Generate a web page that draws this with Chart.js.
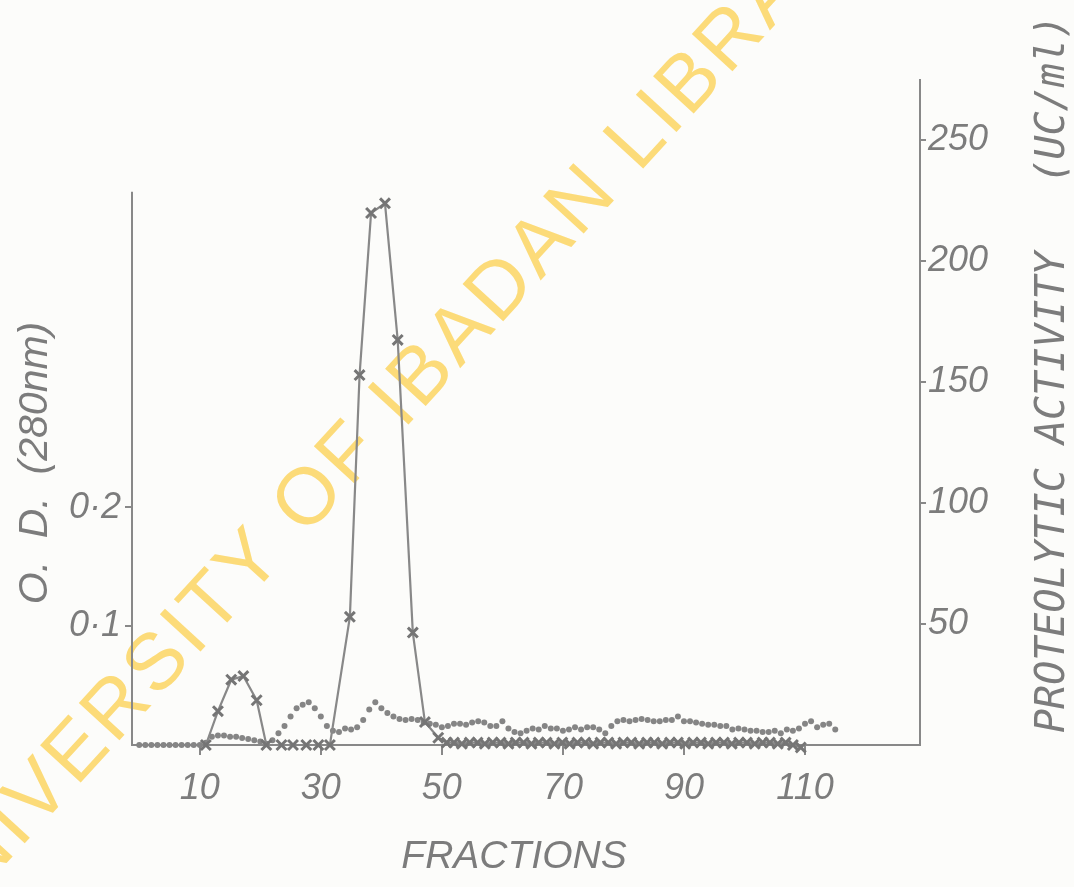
<!DOCTYPE html>
<html>
<head>
<meta charset="utf-8">
<script src="https://cdn.jsdelivr.net/npm/chart.js@4/dist/chart.umd.min.js"></script>
<style>
  html, body { margin: 0; padding: 0; background: #fcfcfa; }
  #wrap { width: 1074px; height: 887px; position: relative; }
</style>
</head>
<body>
<div id="wrap"><canvas id="chart" width="1074" height="887"></canvas></div>
<script>
// O.D. (280 nm), one reading per fraction, starting at fraction 0
const odValues = [
  0, 0, 0, 0, 0, 0, 0, 0, 0, 0, 0,
  0.002, 0.007, 0.008, 0.008, 0.007, 0.007, 0.006, 0.005, 0.004, 0.003,
  0.001, 0.004, 0.010, 0.016, 0.024, 0.031, 0.034, 0.036, 0.031, 0.024,
  0.016, 0.012, 0.011, 0.014, 0.013, 0.015, 0.021, 0.030, 0.036, 0.031,
  0.027, 0.024, 0.022, 0.021, 0.022, 0.021, 0.019, 0.018, 0.017, 0.015,
  0.016, 0.018, 0.018, 0.017, 0.019, 0.020, 0.019, 0.016, 0.016, 0.020,
  0.014, 0.011, 0.010, 0.012, 0.014, 0.013, 0.016, 0.014, 0.014, 0.012,
  0.013, 0.015, 0.013, 0.015, 0.015, 0.013, 0.010, 0.016, 0.020, 0.021,
  0.020, 0.021, 0.022, 0.021, 0.020, 0.020, 0.021, 0.021, 0.024, 0.020,
  0.020, 0.019, 0.018, 0.017, 0.017, 0.016, 0.016, 0.013, 0.014, 0.013,
  0.012, 0.012, 0.011, 0.011, 0.012, 0.010, 0.013, 0.012, 0.014, 0.018,
  0.020, 0.015, 0.017, 0.018, 0.013
];

// proteolytic activity (UC/ml)
const activityFractions = [
  11, 13, 15.2, 17.2, 19.4, 21, 23.5, 25.4, 27.6, 29.6, 31.5,
  34.8, 36.4, 38.3, 40.6, 42.7, 45.2, 47.2, 49.4,
  50.8, 52, 53.3, 54.6, 55.9, 57.1, 58.4, 59.7, 61, 62.2, 63.5, 64.8,
  66, 67.3, 68.6, 69.9, 71.1, 72.4, 73.7, 75, 76.2, 77.5, 78.8, 80,
  81.3, 82.6, 83.9, 85.1, 86.4, 87.7, 89, 90.2, 91.5, 92.8, 94, 95.3,
  96.6, 97.9, 99.1, 100.4, 101.7, 103, 104.2, 105.5, 106.8, 108, 109.3
];
const activityValues = [
  0, 14, 27, 28.5, 18.5, 0, 0, 0, 0, 0, 0,
  53, 153, 220, 224, 167.5, 46.5, 9.5, 3,
  1, 1, 0.5, 1, 1, 0.5, 1, 1, 0.5, 1, 1, 0.5,
  1, 1, 0.5, 1, 0.5, 1, 1, 0.5, 1, 1, 0.5, 1,
  1, 0.5, 1, 1, 0.5, 1, 1, 0.5, 1, 1, 0.5, 1,
  1, 0.5, 1, 1, 0.5, 1, 1, 0.5, 1, 0, -1
];

const xTicks = [10, 30, 50, 70, 90, 110];
const odTicks = [0.1, 0.2];
const activityTicks = [50, 100, 150, 200, 250];

const xMin = -1.2, xMax = 129;
const odMax = 0.56, activityMax = 275;
const odAxisTop = 0.466;

const ink = "#7c7c7c";
const lineInk = "#888888";

const odPoints = odValues.map((v, i) => ({ x: i, y: v }));
const activityPoints = activityFractions.map((f, i) => ({ x: f, y: activityValues[i] }));

const paperPlugin = {
  id: "paper",
  beforeDraw(chart) {
    const ctx = chart.ctx;
    ctx.save();
    ctx.fillStyle = "#fcfcfa";
    ctx.fillRect(0, 0, chart.width, chart.height);
    // library stamp
    ctx.translate(-80, 925);
    ctx.rotate(-47.5 * Math.PI / 180);
    ctx.font = "80px 'Liberation Sans', Arial, sans-serif";
    ctx.letterSpacing = "4px";
    ctx.fillStyle = "rgba(252, 213, 98, 0.85)";
    ctx.textBaseline = "middle";
    ctx.fillText("UNIVERSITY OF IBADAN LIBRARY", 0, 0);
    ctx.restore();
  }
};

const titlesPlugin = {
  id: "titles",
  afterDraw(chart) {
    const ctx = chart.ctx;
    const yl = chart.scales.yOD;
    const area = chart.chartArea;
    ctx.save();
    // left axis only runs up to ~0.47
    ctx.strokeStyle = lineInk;
    ctx.lineWidth = 2;
    ctx.beginPath();
    ctx.moveTo(area.left, yl.getPixelForValue(0) + 1);
    ctx.lineTo(area.left, yl.getPixelForValue(odAxisTop));
    ctx.stroke();

    ctx.fillStyle = ink;
    ctx.textBaseline = "middle";
    ctx.font = "italic 39px 'Liberation Sans', Arial, sans-serif";
    ctx.textAlign = "center";
    ctx.fillText("FRACTIONS", 514, 857);

    ctx.save();
    ctx.translate(36, 463);
    ctx.rotate(-Math.PI / 2);
    ctx.font = "italic 41px 'Liberation Sans', Arial, sans-serif";
    ctx.fillText("O.  D.  (280nm)", 0, 0);
    ctx.restore();

    ctx.save();
    ctx.translate(1054, 733);
    ctx.rotate(-Math.PI / 2);
    ctx.font = "oblique 40px 'DejaVu Sans Mono', monospace";
    ctx.textAlign = "left";
    ctx.fillText("PROTEOLYTIC ACTIVITY", 0, 0);
    ctx.textAlign = "right";
    ctx.fillText("(UC/ml)", 718, 0);
    ctx.restore();
    ctx.restore();
  }
};

const tickFont = { family: "'Liberation Sans', Arial, sans-serif", size: 36, style: "italic" };

new Chart(document.getElementById("chart"), {
  type: "scatter",
  data: {
    datasets: [
      {
        label: "Proteolytic activity",
        data: activityPoints,
        yAxisID: "yAct",
        showLine: true,
        borderColor: lineInk,
        borderWidth: 2.2,
        pointStyle: "crossRot",
        pointRadius: 7,
        pointBorderWidth: 3,
        pointBorderColor: "#757575",
        tension: 0,
        clip: false
      },
      {
        label: "O.D. 280 nm",
        data: odPoints,
        yAxisID: "yOD",
        showLine: false,
        pointStyle: "circle",
        pointRadius: 3,
        pointBorderWidth: 0,
        pointBackgroundColor: "#858585",
        clip: false
      }
    ]
  },
  options: {
    responsive: false,
    animation: false,
    layout: { padding: { top: 80, left: 0, right: 0, bottom: 0 } },
    plugins: {
      legend: { display: false },
      tooltip: { enabled: false }
    },
    scales: {
      x: {
        type: "linear",
        min: xMin,
        max: xMax,
        afterBuildTicks: s => { s.ticks = xTicks.map(v => ({ value: v })); },
        afterFit: s => { s.height = 142; },
        grid: { drawOnChartArea: false, tickLength: 10, color: lineInk, lineWidth: 2 },
        border: { color: lineInk, width: 2 },
        ticks: { color: ink, font: tickFont, padding: 12, maxRotation: 0 }
      },
      yOD: {
        type: "linear",
        position: "left",
        min: 0,
        max: odMax,
        afterBuildTicks: s => { s.ticks = odTicks.map(v => ({ value: v })); },
        afterFit: s => { s.width = 132; },
        grid: { drawOnChartArea: false, tickLength: 7, color: lineInk, lineWidth: 2 },
        border: { display: false },
        ticks: {
          color: ink, font: tickFont, padding: 4,
          callback: v => v.toFixed(1).replace(".", "·")
        }
      },
      yAct: {
        type: "linear",
        position: "right",
        min: 0,
        max: activityMax,
        afterBuildTicks: s => { s.ticks = activityTicks.map(v => ({ value: v })); },
        afterFit: s => { s.width = 154; },
        grid: { drawOnChartArea: false, tickLength: 6, color: lineInk, lineWidth: 2 },
        border: { color: lineInk, width: 2 },
        ticks: { color: ink, font: tickFont, padding: 2 }
      }
    }
  },
  plugins: [paperPlugin, titlesPlugin]
});
</script>
</body>
</html>
